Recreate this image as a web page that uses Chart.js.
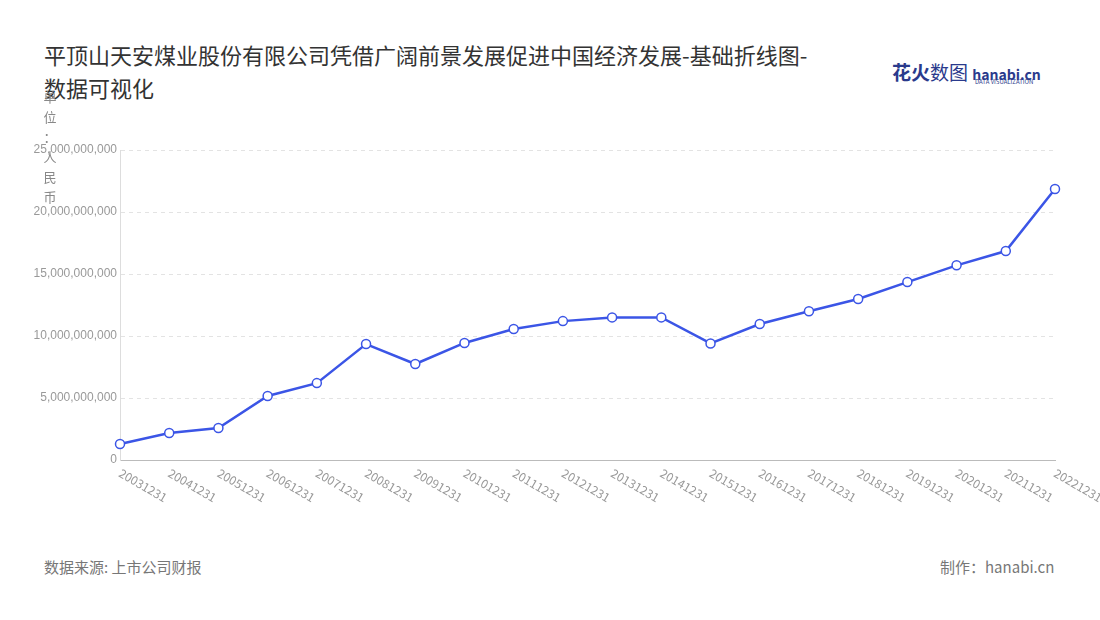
<!DOCTYPE html>
<html><head><meta charset="utf-8">
<script src="https://cdn.jsdelivr.net/npm/chart.js@4"></script>
<style>
body{margin:0;background:#fff;font-family:"Noto Sans CJK SC","Noto Sans",sans-serif;}
#wrap{position:relative;width:1100px;height:620px;}
.t{position:absolute;color:#333;}
</style></head><body>
<div id="wrap">
<div class="t" style="left:44px;top:38px;font-size:22px;line-height:33px;width:785px;">平顶山天安煤业股份有限公司凭借广阔前景发展促进中国经济发展-基础折线图-数据可视化</div>
<div class="t" style="left:892px;top:58px;font-size:19px;font-weight:bold;color:#2a3a8c;">花火<span style="font-weight:normal">数图</span> <span style="font-size:14px;color:#2a3a8c;">hanabi.cn</span></div>
<div class="t" style="left:975px;top:77px;font-size:6px;color:#2a3a8c;">DATA VISUALIZATION</div>
<div class="t" style="left:44px;top:556px;font-size:15px;color:#777;">数据来源: 上市公司财报</div>
<div class="t" style="left:940px;top:556px;font-size:15px;color:#777;">制作：hanabi.cn</div>
<canvas id="c" width="1100" height="620" style="position:absolute;left:0;top:0;"></canvas>
</div>
<script>
const years = ['20031231','20041231','20051231','20061231','20071231','20081231','20091231','20101231','20111231','20121231','20131231','20141231','20151231','20161231','20171231','20181231','20191231','20201231','20211231','20221231'];
const revenue = [1.29e9,2.18e9,2.58e9,5.16e9,6.2e9,9.35e9,7.74e9,9.44e9,10.56e9,11.2e9,11.5e9,11.5e9,9.4e9,10.97e9,12.0e9,12.98e9,14.35e9,15.7e9,16.85e9,21.85e9];
const unitLabel = '单位：人民币';

const extras = {
  id: 'extras',
  afterDraw(chart) {
    const ctx = chart.ctx, x = chart.scales.x;
    ctx.save();
    ctx.fillStyle = '#999';
    ctx.font = '12px "Noto Sans CJK SC", sans-serif';
    years.forEach((y, i) => {
      const px = x.getPixelForValue(i);
      ctx.save();
      ctx.translate(px, x.top + 12);
      ctx.rotate(Math.PI / 6);
      ctx.textAlign = 'left';
      ctx.textBaseline = 'middle';
      ctx.fillText(y, 0, 0);
      ctx.restore();
    });
    ctx.fillStyle = '#888';
    ctx.font = '13px "Noto Sans CJK SC", sans-serif';
    ctx.textAlign = 'center';
    [...unitLabel].forEach((ch, i) => ctx.fillText(ch, 50, 102 + i * 20));
    ctx.restore();
  }
};

new Chart(document.getElementById('c'), {
  type: 'line',
  data: {
    labels: years,
    datasets: [{
      data: revenue,
      borderColor: '#3b55e6',
      borderWidth: 2.5,
      pointBackgroundColor: '#fff',
      pointBorderColor: '#3b55e6',
      pointBorderWidth: 1.5,
      pointRadius: 4.5,
      tension: 0
    }]
  },
  options: {
    responsive: false,
    animation: false,
    layout: { padding: { top: 150, right: 45, bottom: 60, left: 0 } },
    plugins: { legend: { display: false }, tooltip: { enabled: false } },
    scales: {
      x: {
        offset: false,
        grid: { display: false },
        border: { color: '#bbb' },
        ticks: { display: false },
        afterFit(s) { s.height = 100; }
      },
      y: {
        min: 0, max: 25e9,
        ticks: { stepSize: 5e9, color: '#999', font: { size: 12 }, callback: v => v.toLocaleString('en-US') },
        grid: { color: '#e3e3e3', drawTicks: false },
        border: { display: true, color: '#ddd', dash: [4, 4] },
        afterFit(s) { s.width = 120; }
      }
    }
  },
  plugins: [extras]
});
</script>
</body></html>
